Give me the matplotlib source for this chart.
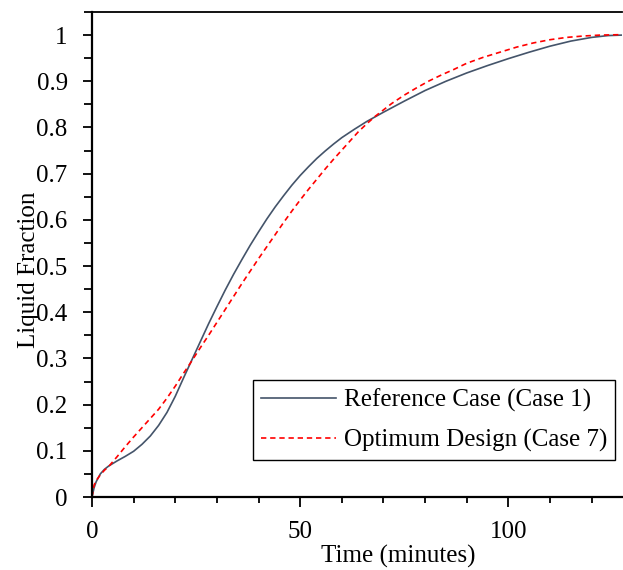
import matplotlib
matplotlib.use("Agg")
import matplotlib.pyplot as plt
from matplotlib.ticker import MultipleLocator

# ── data ─────────────────────────────────────────────────────────────────
ref_time = [0, 0.5, 1, 2, 3, 4, 6, 8, 10, 12, 14, 16, 18, 20, 22, 24, 26,
            28, 30, 32, 34, 36, 38, 40, 42, 44, 46, 48, 50, 52, 54, 56, 58,
            60, 63, 66, 70, 75, 80, 85, 90, 95, 100, 105, 110, 115, 120, 124,
            127.3]
ref_frac = [0, 0.02, 0.033, 0.05, 0.06, 0.067, 0.078, 0.088, 0.099, 0.114,
            0.132, 0.155, 0.183, 0.218, 0.258, 0.297, 0.336, 0.375, 0.412,
            0.448, 0.482, 0.514, 0.545, 0.574, 0.602, 0.628, 0.652, 0.675,
            0.696, 0.715, 0.733, 0.749, 0.764, 0.778, 0.796, 0.813, 0.833,
            0.857, 0.880, 0.900, 0.918, 0.934, 0.949, 0.963, 0.976, 0.987,
            0.995, 0.999, 1.0]

opt_time = [0, 0.5, 1.2, 2, 3, 4, 6, 8, 10, 12, 14, 16, 18, 20, 22, 24, 26,
            28, 30, 32, 34, 36, 38, 40, 42, 44, 46, 48, 50, 52, 54, 56, 58,
            60, 62, 64, 66, 68, 70, 72, 75, 78, 81, 84, 87, 90, 94, 98, 102,
            106, 110, 114, 118, 122, 127.3]
opt_frac = [0, 0.026, 0.038, 0.048, 0.058, 0.066, 0.087, 0.109, 0.13, 0.15,
            0.17, 0.19, 0.214, 0.24, 0.268, 0.295, 0.323, 0.35, 0.378, 0.406,
            0.434, 0.462, 0.489, 0.516, 0.542, 0.568, 0.594, 0.619, 0.643,
            0.666, 0.688, 0.71, 0.731, 0.751, 0.771, 0.791, 0.808, 0.824,
            0.838, 0.852, 0.87, 0.886, 0.901, 0.914, 0.926, 0.939, 0.952,
            0.963, 0.974, 0.983, 0.99, 0.995, 0.998, 1.0, 1.001]

ref_label = "Reference Case (Case 1)"
opt_label = "Optimum Design (Case 7)"

plt.rcParams["font.family"] = ["Liberation Serif", "DejaVu Serif"]
plt.rcParams["font.size"] = 18

W, H = 623, 570
fig = plt.figure(figsize=(W / 100, H / 100), dpi=100)
ax = fig.add_axes([92 / W, (H - 497) / H, (622 - 92) / W, (497 - 12) / H])

ax.plot(ref_time, ref_frac, color="#44546A", lw=1.2, label=ref_label)
ax.plot(opt_time, opt_frac, color="#FF0000", lw=1.2, ls=(0, (3.2, 2.3)),
        label=opt_label)

ax.set_xlim(0, 127.3)
ax.set_ylim(0, 1.0500001)

ax.xaxis.set_major_locator(MultipleLocator(50))
ax.xaxis.set_minor_locator(MultipleLocator(10))
ax.yaxis.set_major_locator(MultipleLocator(0.1))
ax.yaxis.set_minor_locator(MultipleLocator(0.05))
ax.yaxis.set_major_formatter(lambda v, p: f"{v:.1f}".rstrip("0").rstrip(".")
                             if v else "0")

ax.tick_params(axis="both", which="both", direction="out", width=1.3,
               labelsize=18)
ax.tick_params(axis="x", which="major", length=7, pad=10)
ax.tick_params(axis="x", which="minor", length=4)
ax.tick_params(axis="y", which="major", length=6.5, pad=11)
ax.tick_params(axis="y", which="minor", length=6)

ax.spines["right"].set_visible(False)
for s in ("left", "bottom"):
    ax.spines[s].set_linewidth(1.6)
ax.spines["top"].set_linewidth(1.3)

# the y label sits over the tick labels in the original as well
ax.set_xlabel("Time (minutes)", fontsize=18)
ax.set_ylabel("Liquid Fraction", fontsize=18)
ax.xaxis.set_label_coords(0.577, -0.098)
ax.yaxis.set_label_coords(-0.098, 0.468)

leg = ax.legend(loc="upper left", bbox_to_anchor=(0.304, 0.241),
                borderaxespad=0, fancybox=False, framealpha=1,
                edgecolor="black", handlelength=3.0, handletextpad=0.3,
                labelspacing=0.68, borderpad=0.33, fontsize=18)
leg.get_frame().set_linewidth(1.0)

fig.savefig("out.png", dpi=100)
